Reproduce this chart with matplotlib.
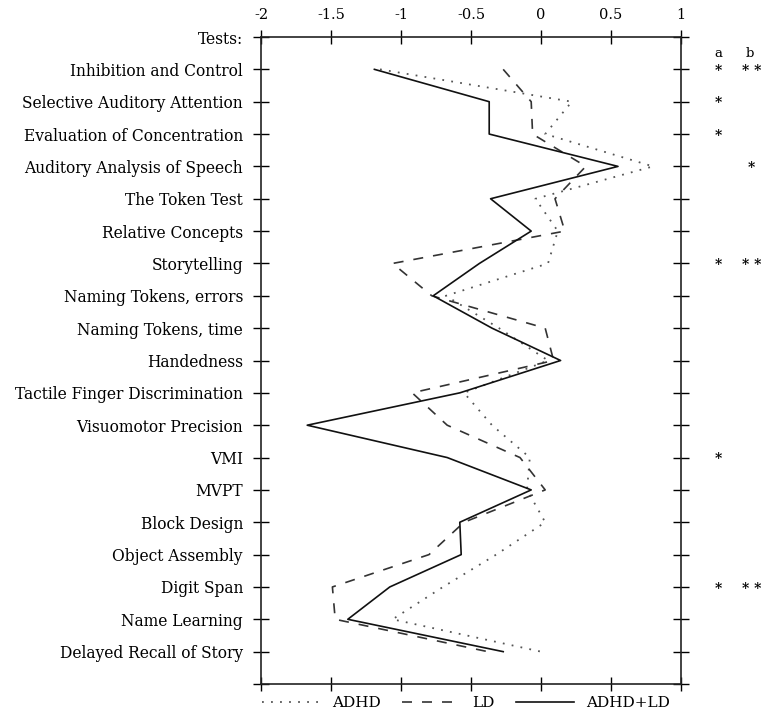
import numpy as np
import matplotlib
matplotlib.use("Agg")
import matplotlib.pyplot as plt
from matplotlib.transforms import blended_transform_factory

plt.rcParams['font.family'] = ['DejaVu Serif']

tests = ["Inhibition and Control", "Selective Auditory Attention",
         "Evaluation of Concentration", "Auditory Analysis of Speech",
         "The Token Test", "Relative Concepts", "Storytelling",
         "Naming Tokens, errors", "Naming Tokens, time", "Handedness",
         "Tactile Finger Discrimination", "Visuomotor Precision", "VMI",
         "MVPT", "Block Design", "Object Assembly", "Digit Span",
         "Name Learning", "Delayed Recall of Story"]

adhd = [-1.15, 0.22, 0.03, 0.80, -0.04, 0.12, 0.05, -0.68, -0.30, 0.05,
        -0.55, -0.35, -0.08, -0.10, 0.03, -0.32, -0.70, -1.06, 0.0]
ld = [-0.27, -0.07, -0.06, 0.32, 0.10, 0.17, -1.06, -0.78, 0.03, 0.09,
      -0.92, -0.67, -0.15, 0.03, -0.55, -0.80, -1.49, -1.47, -0.38]
adhd_ld = [-1.19, -0.37, -0.37, 0.55, -0.36, -0.07, -0.44, -0.77, -0.35, 0.14,
           -0.58, -1.67, -0.67, -0.07, -0.58, -0.57, -1.08, -1.38, -0.27]

sig_a = ['*', '*', '*', '', '', '', '*', '', '', '', '', '', '*', '', '', '', '*', '', '']
sig_b = ['* *', '', '', '*', '', '', '* *', '', '', '', '', '', '', '', '', '', '* *', '', '']

x_ticks = [-2, -1.5, -1, -0.5, 0, 0.5, 1]

fig = plt.figure(figsize=(7.64, 7.16), dpi=100)
ax = fig.add_axes([261/764, 1 - 684/716, 420/764, 647/716])

rows = np.arange(1, len(tests) + 1)
l1, = ax.plot(adhd, rows, color='#555555', lw=1.3, linestyle=(0, (1, 4)), label='ADHD')
l2, = ax.plot(ld, rows, color='#333333', lw=1.2, linestyle=(0, (6, 6)), label='LD')
l3, = ax.plot(adhd_ld, rows, color='#111111', lw=1.2, label='ADHD+LD')

ax.set_xlim(-2, 1)
ax.set_ylim(20, 0)
ax.set_xticks(x_ticks)
ax.set_xticklabels(['-2', '-1.5', '-1', '-0.5', '0', '0.5', '1'])
ax.set_yticks(np.arange(0, 21))
ax.set_yticklabels(['Tests:'] + tests + [''])

ax.xaxis.set_ticks_position('both')
ax.xaxis.set_label_position('top')
ax.tick_params(axis='x', which='both', direction='inout', length=10, width=1,
               labeltop=True, labelbottom=False, pad=6, labelsize=10.5)
ax.yaxis.set_ticks_position('both')
ax.tick_params(axis='y', which='both', direction='inout', length=12, width=1,
               left=True, right=True, labelleft=True, labelright=False, pad=7, labelsize=11.2)
for s in ax.spines.values():
    s.set_linewidth(1.2)
    s.set_color('#222222')

tr = blended_transform_factory(ax.transAxes, ax.transData)
ax.text(1.088, 0.5, 'a', transform=tr, ha='center', va='center', fontsize=9.5)
ax.text(1.164, 0.5, 'b', transform=tr, ha='center', va='center', fontsize=9.5)
for i in range(len(tests)):
    if sig_a[i]:
        ax.text(1.088, rows[i] + 0.05, sig_a[i], transform=tr, ha='center', va='center',
                fontsize=10, fontweight='bold')
    if sig_b[i]:
        ax.text(1.168, rows[i] + 0.05, sig_b[i], transform=tr, ha='center', va='center',
                fontsize=10, fontweight='bold')

fig.legend(handles=[l1, l2, l3], loc='center', bbox_to_anchor=(0.61, 0.018), ncol=3,
           frameon=False, handlelength=3.8, handletextpad=0.8, columnspacing=1.4, fontsize=11)

fig.savefig('out.png', dpi=100)
